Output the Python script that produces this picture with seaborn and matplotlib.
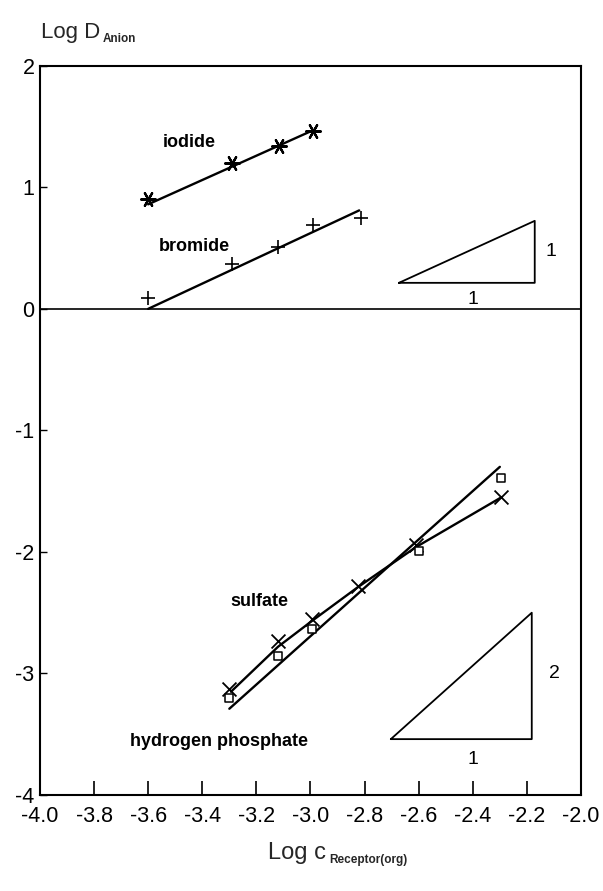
import numpy as np
import pandas as pd
import matplotlib
matplotlib.use("Agg")
import matplotlib.pyplot as plt
import seaborn as sns

# measured distribution ratios, log D vs log c(receptor, org)
iodide_x = [-3.6, -3.29, -3.115, -2.99]
iodide_y = [0.90, 1.20, 1.34, 1.46]
bromide_x = [-3.6, -3.29, -3.12, -2.99, -2.815]
bromide_y = [0.09, 0.37, 0.51, 0.69, 0.75]
sulfate_x = [-3.30, -3.12, -2.996, -2.825, -2.61, -2.294]
sulfate_y = [-3.13, -2.73, -2.55, -2.28, -1.94, -1.55]
phosphate_x = [-3.30, -3.12, -2.996, -2.60, -2.294]
phosphate_y = [-3.20, -2.86, -2.63, -1.99, -1.39]

# drawn correlation lines
iodide_line_x = [-3.6, -3.0]
iodide_line_y = [0.86, 1.46]
bromide_line_x = [-3.6, -2.82]
bromide_line_y = [0.0, 0.81]
sulfate_line_x = [-3.294, -3.12, -2.996, -2.825, -2.61, -2.294]
sulfate_line_y = [-3.15, -2.78, -2.57, -2.29, -1.96, -1.55]
phosphate_line_x = [-3.30, -2.30]
phosphate_line_y = [-3.29, -1.30]

# slope guides (slope 1 and slope 2)
guide1_x = [-2.673, -2.171, -2.171, -2.673]
guide1_y = [0.214, 0.214, 0.724, 0.214]
guide2_x = [-2.703, -2.182, -2.182, -2.703]
guide2_y = [-3.54, -3.54, -2.50, -3.54]

x_ticks = [-4.0, -3.8, -3.6, -3.4, -3.2, -3.0, -2.8, -2.6, -2.4, -2.2, -2.0]
y_ticks = [2, 1, 0, -1, -2, -3, -4]

sns.set_theme(style="ticks")
plt.rcParams["font.family"] = ["Liberation Sans", "DejaVu Sans"]
plt.rcParams["axes.unicode_minus"] = False

fig = plt.figure(figsize=(6.03, 8.91), dpi=100)
ax = fig.add_axes([0.0663, 0.1077, 0.8972, 0.8185])

line_kw = dict(color="black", linewidth=1.7, estimator=None, sort=False, ax=ax, legend=False)
sns.lineplot(x=iodide_line_x, y=iodide_line_y, **line_kw)
sns.lineplot(x=bromide_line_x, y=bromide_line_y, **line_kw)
sns.lineplot(x=sulfate_line_x, y=sulfate_line_y, **line_kw)
sns.lineplot(x=phosphate_line_x, y=phosphate_line_y, **line_kw)

# slope triangles
guide_kw = dict(color="black", linewidth=1.3, estimator=None, sort=False, ax=ax, legend=False)
sns.lineplot(x=guide1_x, y=guide1_y, **guide_kw)
sns.lineplot(x=guide2_x, y=guide2_y, **guide_kw)

ax.axhline(0, color="black", linewidth=1.2, zorder=1)

# data markers
sns.scatterplot(x=iodide_x, y=iodide_y, marker=(6, 2, 90), s=110, color="black",
                linewidth=1.6, ax=ax, legend=False, zorder=5)
sns.scatterplot(x=bromide_x, y=bromide_y, marker="+", s=110, color="black",
                linewidth=1.2, ax=ax, legend=False, zorder=5)
sns.scatterplot(x=sulfate_x, y=sulfate_y, marker="x", s=100, color="black",
                linewidth=1.3, ax=ax, legend=False, zorder=5)
sns.scatterplot(x=phosphate_x, y=phosphate_y, marker="s", s=28, facecolor="white",
                edgecolor="black", linewidth=1.1, ax=ax, legend=False, zorder=5)

label_kw = dict(fontsize=13, fontweight="bold", ha="center", va="center", color="black")
ax.text(-3.45, 1.37, "iodide", **label_kw)
ax.text(-3.43, 0.51, "bromide", **label_kw)
ax.text(-3.19, -2.41, "sulfate", **label_kw)
ax.text(-3.34, -3.56, "hydrogen phosphate", **label_kw)

num_kw = dict(fontsize=14, ha="center", va="center", color="black")
ax.text(-2.11, 0.47, "1", **num_kw)
ax.text(-2.40, 0.08, "1", **num_kw)
ax.text(-2.10, -3.0, "2", **num_kw)
ax.text(-2.40, -3.71, "1", **num_kw)

ax.set_xlim(-4.0, -2.0)
ax.set_ylim(-4.0, 2.0)
ax.set_xticks(x_ticks)
ax.set_xticklabels([f"{v:.1f}" for v in x_ticks])
ax.set_yticks(y_ticks)
ax.set_yticklabels([str(v) for v in y_ticks])
ax.tick_params(axis="x", direction="in", length=10, width=1.2, pad=8, labelsize=15.5,
               colors="black")
ax.tick_params(axis="y", direction="in", length=5, width=1.0, pad=4, labelsize=15.5,
               colors="black")
for sp in ax.spines.values():
    sp.set_visible(True)
    sp.set_color("black")
    sp.set_linewidth(1.5)
ax.set_xlabel("")
ax.set_ylabel("")

fig.text(0.068, 0.957, "Log D", fontsize=16, ha="left", va="baseline")
fig.text(0.170, 0.953, "Anion", fontsize=8.5, fontweight="bold", ha="left", va="baseline")
fig.text(0.445, 0.036, "Log c", fontsize=17, ha="left", va="baseline")
fig.text(0.546, 0.031, "Receptor(org)", fontsize=8.5, fontweight="bold", ha="left",
         va="baseline")

fig.savefig("out.png", dpi=100, facecolor="white")
